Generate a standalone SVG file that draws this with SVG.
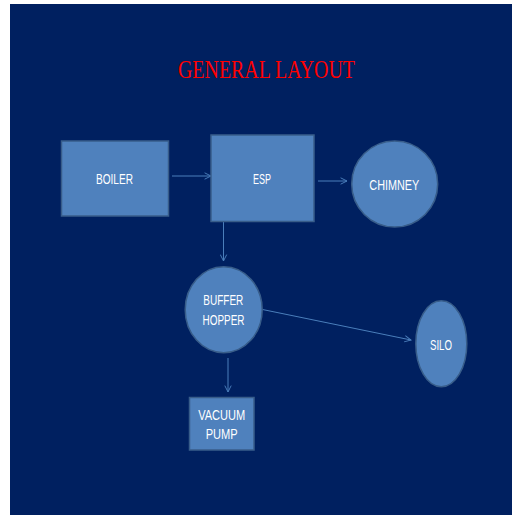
<svg xmlns="http://www.w3.org/2000/svg" width="512" height="515" viewBox="0 0 512 515">
<defs>
<style>
.node{fill:#4F81BD;stroke:#385D8A;stroke-width:1.5}
.lbl{font-family:"Liberation Sans","DejaVu Sans",sans-serif;font-size:14px;fill:#FFFFFF;text-anchor:middle}
.conn{stroke:#4A7EBB;stroke-width:1;fill:none;marker-end:url(#arr)}
</style>
<marker id="arr" viewBox="0 0 10 10" refX="9" refY="5" markerWidth="8" markerHeight="8" markerUnits="userSpaceOnUse" orient="auto">
<path d="M1,1 L9,5 L1,9" fill="none" stroke="#4A7EBB" stroke-width="1.2"/>
</marker>
</defs>
<rect x="10" y="4" width="502" height="511" fill="#002060"/>
<text x="266.5" y="78" font-family="Liberation Serif,serif" font-size="26" fill="#FF0000" text-anchor="middle" textLength="177" lengthAdjust="spacingAndGlyphs">GENERAL LAYOUT</text>
<g id="connectors">
<line class="conn" x1="172" y1="176" x2="211" y2="176"/>
<line class="conn" x1="318" y1="181" x2="347" y2="181"/>
<line class="conn" x1="223.5" y1="222" x2="223.5" y2="261"/>
<line class="conn" x1="262.5" y1="309.5" x2="411" y2="340"/>
<line class="conn" x1="228" y1="358" x2="228" y2="392"/>
</g>
<g id="boiler">
<rect class="node" x="61.5" y="141" width="107" height="75"/>
<text class="lbl" x="114.5" y="184" textLength="37" lengthAdjust="spacingAndGlyphs">BOILER</text>
</g>
<g id="esp">
<rect class="node" x="211" y="135" width="103" height="86.5"/>
<text class="lbl" x="262" y="184" textLength="18" lengthAdjust="spacingAndGlyphs">ESP</text>
</g>
<g id="chimney">
<circle class="node" cx="394.7" cy="184" r="43"/>
<text class="lbl" x="394.3" y="190" textLength="50" lengthAdjust="spacingAndGlyphs">CHIMNEY</text>
</g>
<g id="buffer-hopper">
<ellipse class="node" cx="223.7" cy="309.7" rx="38.5" ry="43"/>
<text class="lbl" x="223.3" y="305" textLength="40" lengthAdjust="spacingAndGlyphs">BUFFER</text>
<text class="lbl" x="223.5" y="325.3" textLength="42" lengthAdjust="spacingAndGlyphs">HOPPER</text>
</g>
<g id="silo">
<ellipse class="node" cx="441.3" cy="343.7" rx="25.5" ry="43"/>
<text class="lbl" x="441" y="350" textLength="22" lengthAdjust="spacingAndGlyphs">SILO</text>
</g>
<g id="vacuum-pump">
<rect class="node" x="189.5" y="397.5" width="64.5" height="52.5"/>
<text class="lbl" x="221.7" y="420" textLength="47" lengthAdjust="spacingAndGlyphs">VACUUM</text>
<text class="lbl" x="221.7" y="439.3" textLength="32" lengthAdjust="spacingAndGlyphs">PUMP</text>
</g>
</svg>
